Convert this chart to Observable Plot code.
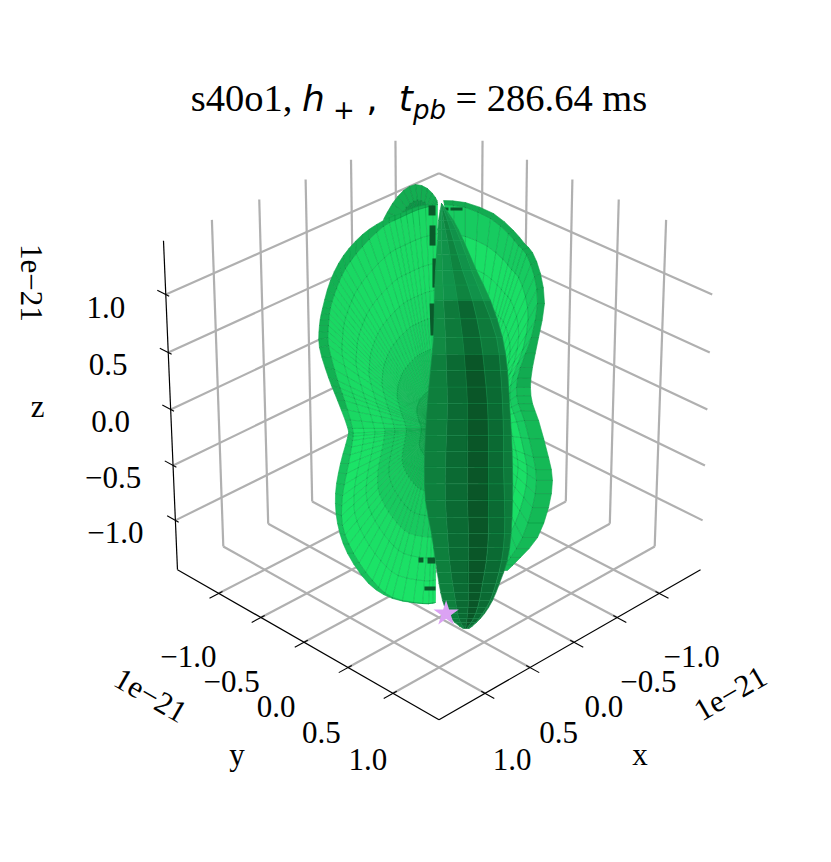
<!DOCTYPE html>
<html><head><meta charset="utf-8">
<script src="https://cdn.jsdelivr.net/npm/d3@7"></script>
<script src="https://cdn.jsdelivr.net/npm/@observablehq/plot@0.6"></script>
<style>
html,body{margin:0;padding:0;background:#fff}
#title{position:relative;z-index:1;width:824px;padding-left:7px;height:120px;text-align:center;font-family:"Liberation Serif",serif;font-size:38.5px;line-height:38px;white-space:nowrap;color:#000}
#title span.t{display:inline-block;margin-top:79px}
#title .m{font-family:"DejaVu Sans",sans-serif;font-style:italic;font-size:36px}
#title sub{font-size:26px;line-height:0;vertical-align:-8px;font-family:"DejaVu Sans",sans-serif}
#title sub.p{font-style:normal}
</style></head><body>
<div id="title"><span class="t">s40o1, <span class="m">h</span><sub class="p">&nbsp;+</sub><span class="m" style="font-style:normal">&nbsp;,</span> <span class="m">&nbsp;t</span><sub style="font-style:italic">pb</sub> = 286.64 ms</span></div>
<div id="chart"></div>
<script>
// axis values (units of 1e-21)
const tickValues = [-1, -0.5, 0, 0.5, 1];
const tickLabels = ["\u22121.0", "\u22120.5", "0.0", "0.5", "1.0"];
const axisLimit = 1.5;
const zLimit = 1.456;
const elevation = 30 * Math.PI / 180;
const cameraDistance = 19.2;

// star: observer direction marker
const starPoint = [0.42, 0.5, -1.456];

// lobe outlines, on the view plane (units of 1e-21)
const leftOuterH = [-.012,-.162,-.304,-.439,-.605,-.755,-.858,-.921,-.945,-.945,-.874,-.802,-.723,-.723,-.779,-.818,-.802,-.723,-.557,-.368,-.130,-.028];
const leftOuterV = [1.628,1.605,1.549,1.494,1.383,1.217,1.020,.798,.664,.490,.253,.071,-.142,-.221,-.427,-.664,-.901,-1.138,-1.375,-1.494,-1.534,-1.526];
const leftInnerH = [-.012,-.162,-.304,-.439,-.605,-.739,-.810,-.858,-.874,-.874,-.802,-.747,-.684,-.684,-.715,-.763,-.763,-.676,-.526,-.368,-.130,-.028];
const leftInnerV = [1.621,1.581,1.518,1.447,1.289,1.115,.957,.806,.664,.506,.229,.071,-.150,-.245,-.427,-.680,-.917,-1.138,-1.352,-1.486,-1.534,-1.526];
const leftPole = [-.020, -.150];

const rightOuterH = [.036,.209,.431,.589,.676,.739,.802,.834,.787,.739,.723,.739,.787,.866,.897,.866,.779,.644,.541];
const rightOuterV = [1.652,1.636,1.549,1.415,1.312,1.241,1.075,.838,.569,.332,.174,.047,-.087,-.379,-.561,-.775,-1.012,-1.170,-1.273];
const rightInnerH = [.043,.209,.407,.549,.628,.692,.755,.779,.731,.644,.613,.628,.676,.747,.771,.739,.660,.565,.486];
const rightInnerV = [1.621,1.597,1.510,1.391,1.296,1.225,1.051,.838,.569,.332,.174,.047,-.087,-.379,-.561,-.775,-1.012,-1.170,-1.273];
const rightPole = [.209, -.166];

const backH = [-.439,-.368,-.281,-.186,-.091,-.028,-.012];
const backV = [1.502,1.628,1.731,1.779,1.747,1.676,1.636];
const backPole = [-.146, 1.455];

// central dark lobe: its band edges at each height
const lensV = [1.628,1.494,1.336,1.099,.862,.569,.308,.047,-.206,-.458,-.719,-.980,-1.194,-1.375,-1.510,-1.613,-1.684,-1.731];
const lensEdge0 = [.020,-.004,-.012,-.028,-.036,-.043,-.067,-.091,-.107,-.115,-.107,-.059,-.028,.000,.028,.068,.125,.190];
const lensEdge1 = [.020,.020,.020,.028,.036,.051,.059,.067,.059,.051,.051,.067,.083,.107,.130,.146,.170,.200];
const lensEdge2 = [.020,.036,.067,.107,.146,.186,.209,.225,.225,.225,.225,.233,.233,.233,.233,.225,.217,.209];
const lensEdge3 = [.020,.067,.115,.186,.265,.328,.360,.383,.391,.391,.391,.391,.375,.344,.320,.290,.255,.220];
const lensEdge4 = [.020,.099,.170,.257,.352,.455,.486,.502,.510,.510,.518,.518,.495,.450,.405,.345,.290,.230];
const lensEdge5 = [.020,.115,.194,.296,.407,.502,.541,.557,.573,.581,.581,.570,.540,.478,.423,.360,.296,.240];

// dark gaps seen through the left and right lobes near the seam
const gapH1 = [-.055,-.051,-.036,-.051,-.162,-.091,-.115,.036,.091];
const gapH2 = [-.055,-.051,-.036,-.043,-.123,-.028,-.028,.075,.186];
const gapV1 = [1.613,1.455,1.194,.838,-1.190,-1.194,-1.415,1.585,1.585];
const gapV2 = [1.534,1.296,.964,.585,-1.190,-1.194,-1.415,1.585,1.585];
const gapW  = [7,6,4,6,5,6,4,3,3];

const ringStops = [0,.18,.36,.5,.62,.74,.87,1];
const leftTones  = ["#12a84f","#14b856","#18ca5f","#18ca5f","#1bdc65","#1be066","#1be367"];
const leftTonesUpper = ["#14b053","#17c25c","#19d062","#1ad764","#1adc65","#1adb64","#1ad863"];
const rightTones = ["#15c05a","#18d261","#19da64","#1adf66","#1adf66","#1adf66","#17cb60"];
const lensLow = ["#0e7f3d","#0b6a33","#0a5628","#0b6a33","#0e7a3b"];
const lensMid = ["#118a43","#0e7a3b","#0b6631","#0e7a3b","#108542"];
const lensTop = ["#13994a","#11924a","#0f8440","#11924a","#139a4b"];
const S = Math.sin(elevation), C = Math.cos(elevation);
const W = 831, H = 862, svgTop = 120, focal = 3643, cx = 438.5, cy = 409;

function project([x, y, z]) {
  const u = x / axisLimit, v = y / axisLimit, w = z / zLimit;
  const sum = (u + v) / Math.SQRT2;
  const X = (v - u) / Math.SQRT2, Zc = C * sum + S * w, Y = -S * sum + C * w;
  return [X / (cameraDistance - Zc), Y / (cameraDistance - Zc)];
}
const plane = (h, v) => [h / axisLimit / cameraDistance, v / axisLimit / cameraDistance];

function cr(a, i, t) {
  const p0 = a[Math.max(i - 1, 0)], p1 = a[i], p2 = a[i + 1], p3 = a[Math.min(i + 2, a.length - 1)];
  return 0.5 * (2 * p1 + (p2 - p0) * t + (2 * p0 - 5 * p1 + 4 * p2 - p3) * t * t + (3 * p1 - p0 - 3 * p2 + p3) * t * t * t);
}
function refine(a, sub) {
  const out = [];
  for (let i = 0; i < a.length - 1; i++) for (let k = 0; k < sub; k++) out.push(cr(a, i, k / sub));
  out.push(a[a.length - 1]);
  return out;
}

let cellId = 0;
function addCell(list, pts, fill) {
  const id = cellId++;
  for (const [h, v] of [...pts, pts[0]]) { const [x, y] = plane(h, v); list.push({id, x, y, fill}); }
}
function fan(list, oh, ov, ih, iv, pole, tonesFor, rimFor, sub) {
  const OH = refine(oh, sub), OV = refine(ov, sub), IH = refine(ih, sub), IV = refine(iv, sub);
  const at = (i, f) => [pole[0] + f * (IH[i] - pole[0]), pole[1] + f * (IV[i] - pole[1])];
  for (let i = 0; i < OH.length - 1; i++) {
    const tones = tonesFor(IV[i]);
    for (let r = 0; r < tones.length; r++) {
      addCell(list, [at(i, ringStops[r]), at(i + 1, ringStops[r]), at(i + 1, ringStops[r + 1]), at(i, ringStops[r + 1])], tones[r]);
    }
    addCell(list, [[IH[i], IV[i]], [IH[i + 1], IV[i + 1]], [OH[i + 1], OV[i + 1]], [OH[i], OV[i]]], rimFor(IV[i]));
  }
}

const backCells = [], rightCells = [], leftCells = [], lensCells = [];
{ // small lobe behind
  const BH = refine(backH, 2), BV = refine(backV, 2);
  for (let i = 0; i < BH.length - 1; i++) {
    const mid = (k, f) => [backPole[0] + f * (BH[k] - backPole[0]), backPole[1] + f * (BV[k] - backPole[1])];
    addCell(backCells, [mid(i, 0), mid(i + 1, 0), mid(i + 1, .62), mid(i, .62)], "#0f9547");
    addCell(backCells, [mid(i, .62), mid(i + 1, .62), mid(i + 1, 1), mid(i, 1)], "#13ad51");
  }
}
fan(rightCells, rightOuterH, rightOuterV, rightInnerH, rightInnerV, rightPole, () => rightTones, v => v > .2 ? "#12ab51" : "#14b956", 2);
fan(leftCells, leftOuterH, leftOuterV, leftInnerH, leftInnerV, leftPole, v => v > -.1 ? leftTonesUpper : leftTones, v => v > 0 ? "#13b052" : "#17c15c", 3);
{ // central lobe
  const edges = [lensEdge0, lensEdge1, lensEdge2, lensEdge3, lensEdge4, lensEdge5].map(e => refine(e, 2));
  const VV = refine(lensV, 2);
  for (let r = 0; r < VV.length - 1; r++) {
    const tones = VV[r] > .9 ? lensTop : VV[r] > .45 ? lensMid : lensLow;
    for (let c = 0; c < 5; c++) {
      const e = (row, f) => [edges[c][row] + f * (edges[c + 1][row] - edges[c][row]), VV[row]];
      addCell(lensCells, [e(r, 0), e(r, 1), e(r + 1, 1), e(r + 1, 0)], tones[c]);
    }
  }
}

const L = axisLimit, Z = zLimit;
const seg = (a, b) => { const p = project(a), q = project(b); return {x1: p[0], y1: p[1], x2: q[0], y2: q[1]}; };
const gridSegs = tickValues.flatMap(t => [
  seg([t, L, -Z], [t, -L, -Z]), seg([t, -L, -Z], [t, -L, Z]),
  seg([L, t, -Z], [-L, t, -Z]), seg([-L, t, -Z], [-L, t, Z]),
  seg([L, -L, t], [-L, -L, t]), seg([-L, -L, t], [-L, L, t])
]);
const axisSegs = [seg([L, L, -Z], [-L, L, -Z]), seg([L, -L, -Z], [L, L, -Z]), seg([L, -L, -Z], [L, -L, Z])];
const tickSegs = tickValues.flatMap(t => [
  seg([t, 1.46, -Z], [t, 1.6, -Z]), seg([1.46, t, -Z], [1.6, t, -Z]), seg([L, -1.46, t], [L, -1.6, t])
]);
const gapSegs = gapW.map((w, i) => {
  const a = plane(gapH1[i], gapV1[i]), b = plane(gapH2[i], gapV2[i]);
  return {x1: a[0], y1: a[1], x2: b[0], y2: b[1], w};
});
const lab = (pts, text) => pts.map((p, i) => { const q = project(p); return {x: q[0], y: q[1], text: text[i]}; });

const xLabels = lab(tickValues.map(t => [t * 1.03, L, -Z]), tickLabels);
const yLabels = lab(tickValues.map(t => [L, t * 1.03, -Z]), tickLabels);
const zLabels = lab(tickValues.map(t => [L, -L, t]), tickLabels);
const serif = "Liberation Serif";
const txt = (d, dx, dy, rotate = 0, size = 31) => Plot.text(d, {x: "x", y: "y", text: "text", dx, dy, rotate, fontSize: size, fontFamily: serif, fill: "#000"});
// each surface: filled cells with seams hidden, then its thin mesh lines on top
const mesh = (d, stroke, op) => [
  Plot.line(d, {x: "x", y: "y", z: "id", fill: "fill", stroke: "fill", strokeWidth: .5}),
  Plot.line(d, {x: "x", y: "y", z: "id", fill: "none", stroke, strokeWidth: .5, strokeOpacity: op})
];

const star = project(starPoint);
const plot = Plot.plot({
  width: W, height: H - svgTop, margin: 0,
  x: {domain: [-cx / focal, (W - cx) / focal], range: [0, W], axis: null},
  y: {domain: [(cy - svgTop) / focal, (cy - H) / focal], range: [0, H - svgTop], axis: null},
  color: {type: "identity"},
  marks: [
    Plot.link(gridSegs, {x1: "x1", y1: "y1", x2: "x2", y2: "y2", stroke: "#b0b0b0", strokeWidth: 2.2}),
    Plot.link(axisSegs, {x1: "x1", y1: "y1", x2: "x2", y2: "y2", stroke: "#000", strokeWidth: 1.2}),
    Plot.link(tickSegs, {x1: "x1", y1: "y1", x2: "x2", y2: "y2", stroke: "#000", strokeWidth: 1.1}),
    mesh(backCells, "#0a6e36", .35),
    mesh(rightCells, "#0b7d3c", .35),
    mesh(leftCells, "#0b7d3c", .3),
    Plot.link(gapSegs, {x1: "x1", y1: "y1", x2: "x2", y2: "y2", stroke: "#0a5a2b", strokeWidth: "w"}),
    mesh(lensCells, "#2aa860", .35),
    Plot.dot([star], {x: d => d[0], y: d => d[1], symbol: "star", r: 6.5, fill: "#dba2f3", stroke: "#dba2f3", strokeWidth: 1.5}),
    txt(xLabels, 30, 65),
    txt(yLabels, -28, 65),
    txt(zLabels, -60, 13),
    txt(lab([[0, L, -Z]], ["x"]), 66, 113),
    txt(lab([[L, 0, -Z]], ["y"]), -67, 113),
    txt(lab([[L, -L, 0]], ["z"]), -133, -2),
    txt(lab([[-L, L, -Z]], ["1e\u221221"]), 30, 124, -30),
    txt(lab([[L, -L, -Z]], ["1e\u221221"]), -27, 126, 30),
    txt(lab([[L, -L, Z]], ["1e\u221221"]), -133, 42, 90)
  ]
});
plot.style.overflow = "visible";
document.getElementById("chart").appendChild(plot);
</script>
</body></html>
